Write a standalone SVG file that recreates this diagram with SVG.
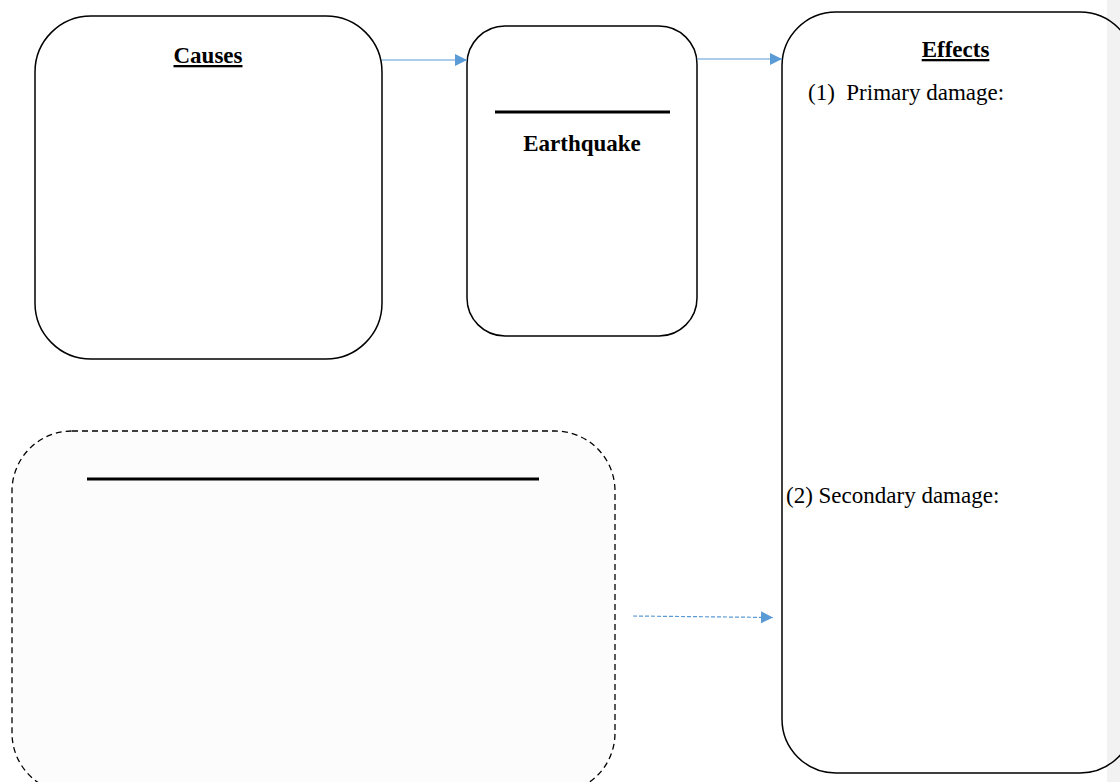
<svg xmlns="http://www.w3.org/2000/svg" width="1120" height="782" viewBox="0 0 1120 782">
<style>
.box{fill:none;stroke:#000;stroke-width:1.5}
.dbox{fill:#fcfcfc;stroke:#000;stroke-width:1.3;stroke-dasharray:6 4}
.bar{stroke:#000;stroke-width:3}
.t{font-family:"Liberation Serif","Times New Roman",serif;font-size:23px;fill:#000}
.b{font-weight:bold}
.conn{stroke:#5B9BD5;stroke-width:1.2;fill:none}
</style>
<defs>
<marker id="ah" viewBox="0 0 12 12" refX="12" refY="6" markerWidth="12" markerHeight="12" markerUnits="userSpaceOnUse" orient="auto">
<path d="M0,0 L12,6 L0,12 Z" fill="#5B9BD5"/>
</marker>
</defs>
<rect x="0" y="0" width="1120" height="782" fill="#fff"/>
<rect x="1107" y="0" width="13" height="782" fill="#f2f2f2"/>
<g id="causes">
<rect class="box" x="35" y="16" width="347" height="343" rx="56" ry="56"/>
<text class="t b" x="208" y="63" text-anchor="middle" text-decoration="underline">Causes</text>
</g>
<g id="earthquake">
<rect class="box" x="467" y="26" width="230" height="310" rx="38" ry="38"/>
<line class="bar" x1="495" y1="112" x2="670" y2="112"/>
<text class="t b" x="582" y="151" text-anchor="middle">Earthquake</text>
</g>
<g id="effects">
<rect class="box" x="782" y="12" width="352" height="761" rx="54" ry="54"/>
<text class="t b" x="955.5" y="57" text-anchor="middle" text-decoration="underline">Effects</text>
<text class="t" x="808" y="100" xml:space="preserve">(1)  Primary damage:</text>
<text class="t" x="786" y="503">(2) Secondary damage:</text>
</g>
<g id="blank">
<rect class="dbox" x="12" y="431" width="603" height="362" rx="60" ry="60"/>
<line class="bar" x1="87" y1="479" x2="539" y2="479"/>
</g>
<g id="connectors">
<line class="conn" x1="382" y1="60" x2="467" y2="60" marker-end="url(#ah)"/>
<line class="conn" x1="697" y1="59" x2="782" y2="59" marker-end="url(#ah)"/>
<line class="conn" x1="633" y1="616" x2="773" y2="617.5" stroke-dasharray="4 2" marker-end="url(#ah)"/>
</g>
</svg>
